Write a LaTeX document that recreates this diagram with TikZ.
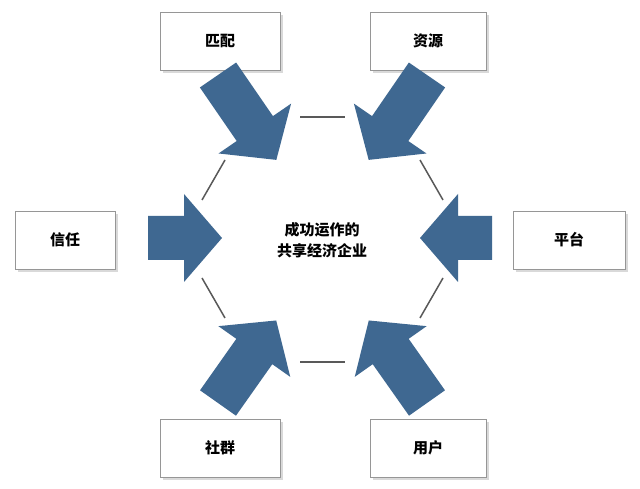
\documentclass[tikz,border=0pt]{standalone}
\usepackage{fontspec}
\newfontfamily\cjk{Noto Sans CJK SC}
\definecolor{arr}{RGB}{63,104,145}
\definecolor{bd}{RGB}{150,150,150}
\begin{document}
\begin{tikzpicture}[x=1pt,y=1pt,
  box/.style={draw=bd,line width=0.8pt,fill=white,minimum height=58pt,font=\cjk\bfseries\fontsize{15}{17}\selectfont},
  hex/.style={draw=black!65,line width=1.5pt},
  pics/bigarrow/.style={code={\fill[arr] (0,-22)--(#1-38,-22)--(#1-38,-44)--(#1,0)--(#1-38,44)--(#1-38,22)--(0,22)--cycle;}}]
\useasboundingbox (0,0) rectangle (640,489);
\fill[white] (0,0) rectangle (640,489);
\foreach \n/\x/\y/\w/\t in {a/220/448/120/匹配,b/428/448/116/资源,c/65/249/100/信任,d/569/249/112/平台,e/220/41/120/社群,f/428/41/116/用户}{
  \fill[black!15] (\x-\w/2+3,\y-32) rectangle (\x+\w/2+3,\y+26);
  \node[box,minimum width=\w pt] (\n) at (\x,\y) {\t};
}
\node[font=\cjk\bfseries\fontsize{15}{21}\selectfont,align=center] (ctr) at (322,249) {成功运作的\\共享经济企业};
\pic[rotate=-55.5] at (218,414) {bigarrow=103};
\pic[rotate=-124.5] at (427,414) {bigarrow=103};
\pic at (148,251) {bigarrow=74};
\pic[rotate=180] at (492,251) {bigarrow=72};
\pic[rotate=54.8] at (218,86) {bigarrow=101};
\pic[rotate=125.2] at (427,86) {bigarrow=101};
\draw[hex] (300,372)--(345,372);
\draw[hex] (300,127)--(345,127);
\draw[hex] (225,329)--(202,289);
\draw[hex] (202,211)--(225,171);
\draw[hex] (420,329)--(443,289);
\draw[hex] (443,211)--(420,171);
\end{tikzpicture}
\end{document}
